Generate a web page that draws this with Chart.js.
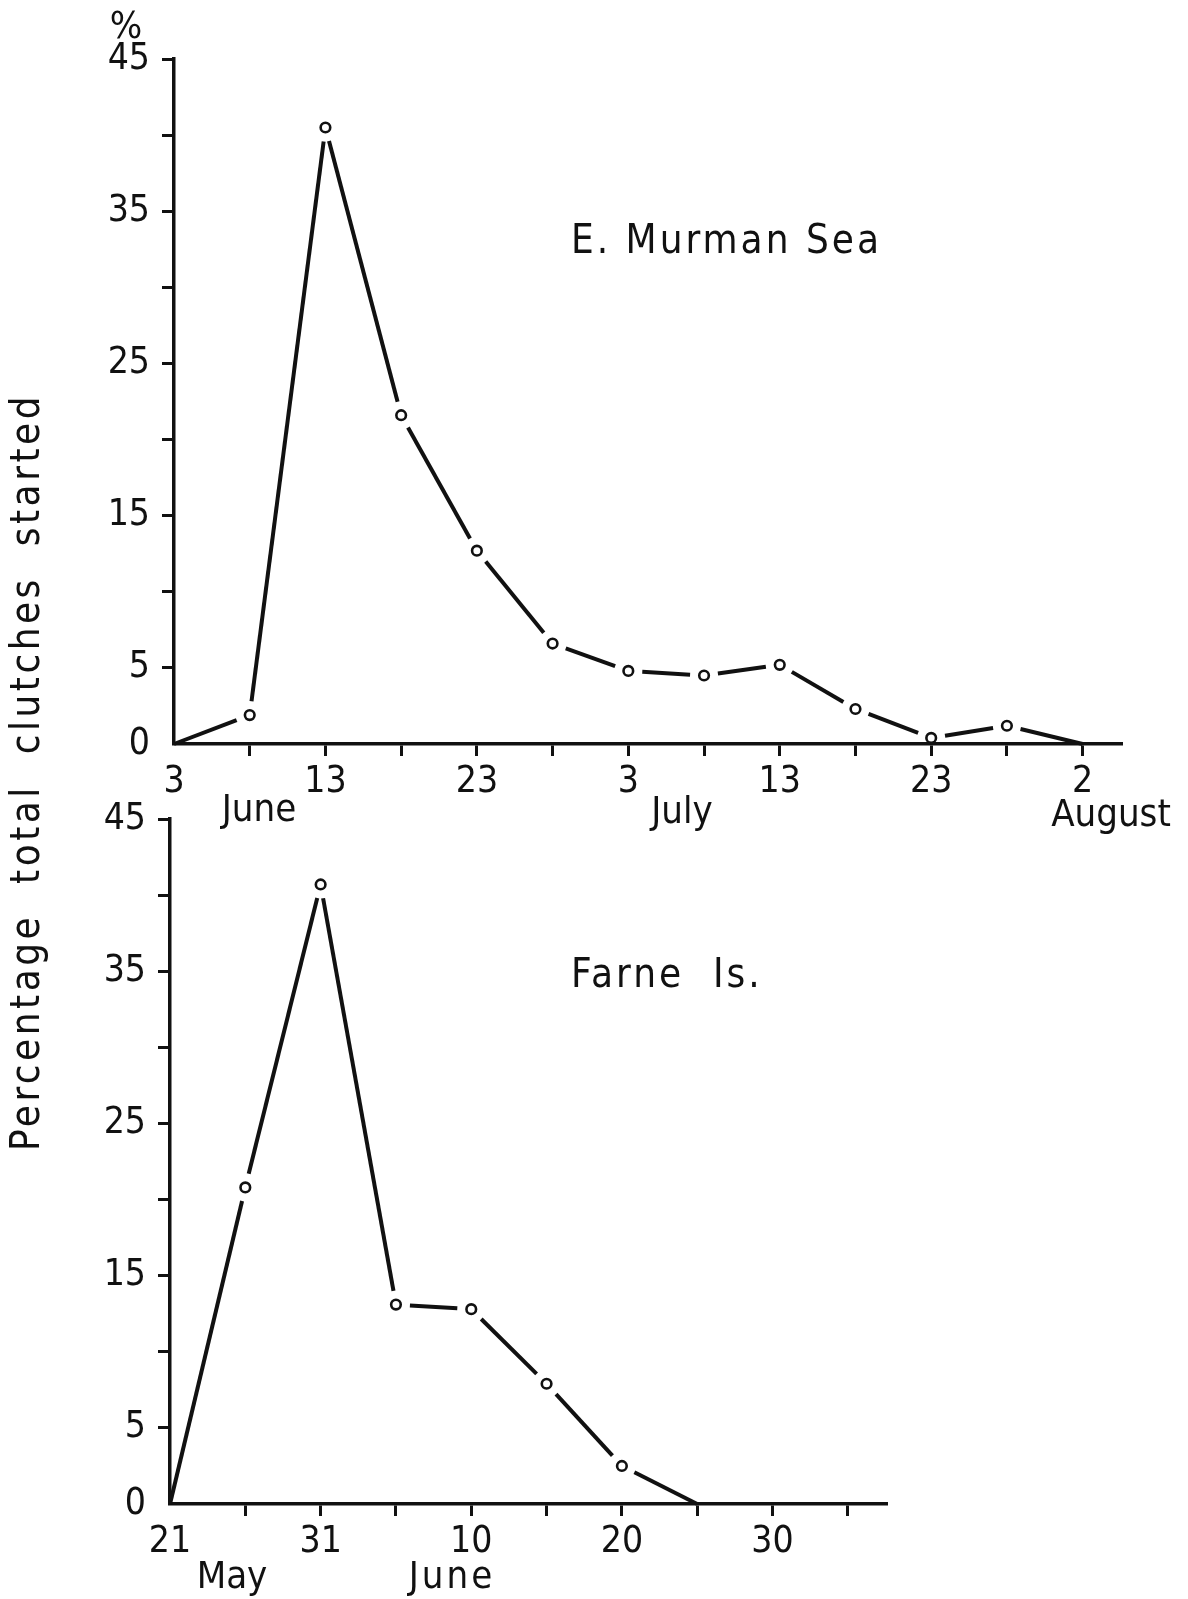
<!DOCTYPE html>
<html>
<head>
<meta charset="utf-8">
<title>Percentage total clutches started</title>
<script src="https://cdn.jsdelivr.net/npm/chart.js"></script>
<style>
  html, body { margin: 0; padding: 0; background: #fff; }
  #wrap { position: relative; width: 1188px; height: 1599px; }
  canvas { position: absolute; left: 0; top: 0; }
</style>
</head>
<body>
<div id="wrap">
  <canvas id="topChart" width="1188" height="1599"></canvas>
  <canvas id="bottomChart" width="1188" height="1599"></canvas>
</div>
<script>
// E. Murman Sea - days counted from 3 June, one reading every 5 days
var murmanDays = [0, 5, 10, 15, 20, 25, 30, 35, 40, 45, 50, 55, 60];
var murmanPct = [0, 1.9, 40.5, 21.6, 12.7, 6.6, 4.8, 4.5, 5.2, 2.3, 0.4, 1.2, 0];
var murmanTickLabels = ['3', '13', '23', '3', '13', '23', '2'];

// Farne Is. - days counted from 21 May
var farneDays = [0, 5, 10, 15, 20, 25, 30, 35];
var farnePct = [0, 20.8, 40.7, 13.1, 12.8, 7.9, 2.5, 0];
var farneTickLabels = ['21', '31', '10', '20', '30'];

var yTickLabels = [0, 5, 15, 25, 35, 45];

var INK = '#111';
var FONT = "'DejaVu Sans Condensed', 'DejaVu Sans', sans-serif";
var GAP = 14; // the drawn line stops this far short of each circle's centre

Chart.defaults.font.family = FONT;
Chart.defaults.color = INK;

// writes the free text (months, panel name, axis title) onto the canvas
var textPlugin = {
  id: 'freeText',
  afterDraw: function(chart, args, opts) {
    var ctx = chart.ctx;
    (opts.items || []).forEach(function(it) {
      ctx.save();
      ctx.fillStyle = INK;
      ctx.font = it.size + 'px ' + FONT;
      ctx.textAlign = it.align || 'center';
      ctx.textBaseline = 'middle';
      if ('letterSpacing' in ctx) ctx.letterSpacing = (it.spacing || 0) + 'px';
      ctx.translate(it.x, it.y);
      if (it.rotate) ctx.rotate(it.rotate);
      ctx.fillText(it.text, 0, 0);
      ctx.restore();
    });
  }
};

function isEnd(i, n) { return i === 0 || i === n - 1; }

function endless(r) {
  // no marker on the first and last reading, as in the figure
  return function(c) {
    return isEnd(c.dataIndex, c.dataset.data.length) ? 0 : r;
  };
}

// one dash per segment, trimmed at both ends where a circle sits
function segGap(c) {
  var n = c.chart.data.datasets[c.datasetIndex].data.length;
  var len = Math.hypot(c.p1.x - c.p0.x, c.p1.y - c.p0.y);
  var g0 = isEnd(c.p0DataIndex, n) ? 0 : GAP;
  var g1 = isEnd(c.p1DataIndex, n) ? 0 : GAP;
  return { g0: g0, dash: Math.max(len - g0 - g1, 0.1), len: len };
}

function makeChart(id, days, values, tickLabels, xMax, pad, texts) {
  var pts = days.map(function(d, i) { return { x: d, y: values[i] }; });
  var noZeroTick = function(c) { return c.tick && c.tick.value === 0 ? 'rgba(0,0,0,0)' : INK; };

  return new Chart(document.getElementById(id), {
    type: 'line',
    data: {
      datasets: [{
        data: pts,
        borderColor: INK,
        borderWidth: 4,
        tension: 0,
        fill: false,
        clip: false,
        pointRadius: endless(4.8),
        pointBorderWidth: 2.6,
        pointBorderColor: INK,
        pointBackgroundColor: '#fff',
        segment: {
          borderDash: function(c) { var s = segGap(c); return [s.dash, s.len + 200]; },
          borderDashOffset: function(c) { return -segGap(c).g0; }
        }
      }]
    },
    options: {
      responsive: false,
      animation: false,
      events: [],
      layout: { padding: pad },
      plugins: {
        legend: { display: false },
        tooltip: { enabled: false },
        freeText: { items: texts }
      },
      scales: {
        x: {
          type: 'linear',
          min: 0,
          max: xMax,
          border: { display: true, color: INK, width: 3.5, z: 1 },
          grid: { drawOnChartArea: false, drawTicks: true, tickLength: 12, tickWidth: 3, tickColor: noZeroTick, z: 1 },
          ticks: {
            stepSize: 5,
            includeBounds: false,
            autoSkip: false,
            maxRotation: 0,
            padding: 4,
            font: { size: 37 },
            callback: function(v) { return v % 10 === 0 ? (tickLabels[v / 10] || '') : ''; }
          },
          afterFit: function(s) { s.height = 70; }
        },
        y: {
          min: 0,
          max: 45,
          border: { display: true, color: INK, width: 3.5, z: 1 },
          grid: { drawOnChartArea: false, drawTicks: true, tickLength: 12, tickWidth: 3, tickColor: noZeroTick, z: 1 },
          ticks: {
            stepSize: 5,
            autoSkip: false,
            padding: 12,
            font: { size: 37 },
            callback: function(v) { return yTickLabels.indexOf(v) >= 0 ? String(v) : ''; }
          },
          afterFit: function(s) { s.width = 90; }
        }
      }
    },
    plugins: [textPlugin]
  });
}

makeChart('topChart', murmanDays, murmanPct, murmanTickLabels, 62.6,
  { left: 84, right: 66, top: 59, bottom: 785 },
  [
    { text: '%', x: 126, y: 28, size: 38 },
    { text: 'E. Murman Sea', x: 571, y: 243, size: 40, align: 'left', spacing: 3 },
    { text: 'June', x: 259, y: 811, size: 38 },
    { text: 'July', x: 682, y: 813, size: 38 },
    { text: 'August', x: 1111, y: 816, size: 38 },
    { text: 'Percentage  total  clutches  started', x: 29, y: 772, size: 40, spacing: 3.5, rotate: -Math.PI / 2 }
  ]);

makeChart('bottomChart', farneDays, farnePct, farneTickLabels, 47.6,
  { left: 80, right: 301, top: 819, bottom: 25 },
  [
    { text: 'Farne  Is.', x: 571, y: 977, size: 40, align: 'left', spacing: 3 },
    { text: 'May', x: 232, y: 1578, size: 38 },
    { text: 'June', x: 452, y: 1578, size: 38, spacing: 3 }
  ]);
</script>
</body>
</html>
